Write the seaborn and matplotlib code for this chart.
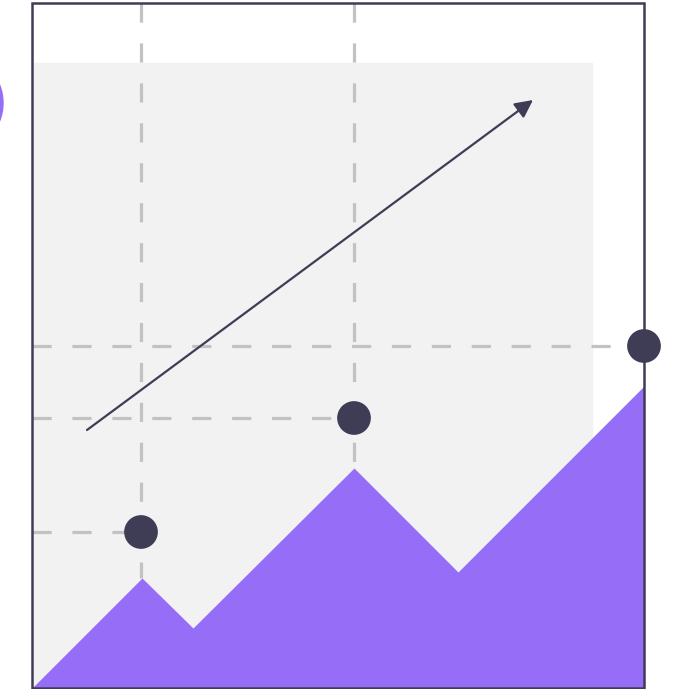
import numpy as np
import pandas as pd
import seaborn as sns
import matplotlib
matplotlib.use('Agg')
import matplotlib.pyplot as plt
from matplotlib.patches import Rectangle, Circle

# all values in the drawing's own units (x to the right, y upwards)
area_x = [32, 142, 193, 354, 458, 644]
area_y = [1, 111, 61, 221, 117, 303]

point_x = [141, 354, 644]
point_y = [157, 271, 343]

arrow_start = (87, 259)
arrow_end = (533, 589)

frame_x = [32, 644]
frame_y = [1, 686]
panel_right = 592
panel_top = 626

dark = '#3f3d56'
purple = '#966df7'
dash_grey = '#c2c2c2'

sns.set_theme(style='white')

fig = plt.figure(figsize=(6.73, 6.89), dpi=100)
ax = fig.add_axes([0, 0, 1, 1])
ax.set_xlim(0, 673)
ax.set_ylim(0, 689)
ax.axis('off')

# purple circle cut off at the left edge
ax.add_patch(Circle((-46, 586), 49, color=purple, zorder=1))

# light grey panel
ax.add_patch(Rectangle((frame_x[0], frame_y[0]), panel_right - frame_x[0],
                       panel_top - frame_y[0], color='#f2f2f2', zorder=1))

# mountain area
ax.fill_between(area_x, area_y, frame_y[0], color=purple, lw=0, zorder=2)

# dashed guide lines
dash = dict(color=dash_grey, lw=2.3, ls=(0, (6, 6.5)), zorder=3)
for px, py, peak in zip(point_x[:2], point_y[:2], [area_y[1], area_y[3]]):
    ax.plot([px, px], [frame_y[1], peak], **dash)
for px, py in zip(point_x, point_y):
    ax.plot([frame_x[0], px], [py, py], **dash)

# arrow
ax.annotate('', xy=arrow_end, xytext=arrow_start,
            arrowprops=dict(arrowstyle='-|>,head_length=0.9,head_width=0.45',
                            color=dark, lw=1.6, shrinkA=0, shrinkB=0),
            zorder=4)

# frame
ax.add_patch(Rectangle((frame_x[0], frame_y[0]), frame_x[1] - frame_x[0],
                       frame_y[1] - frame_y[0], fill=False, ec=dark, lw=1.8,
                       zorder=5))

# points
pts = pd.DataFrame({'x': point_x, 'y': point_y})
sns.scatterplot(data=pts, x='x', y='y', s=590, color=dark, edgecolor='none',
                ax=ax, zorder=6)
ax.set_xlim(0, 673)
ax.set_ylim(0, 689)
ax.axis('off')

fig.savefig('out.png', dpi=100)
